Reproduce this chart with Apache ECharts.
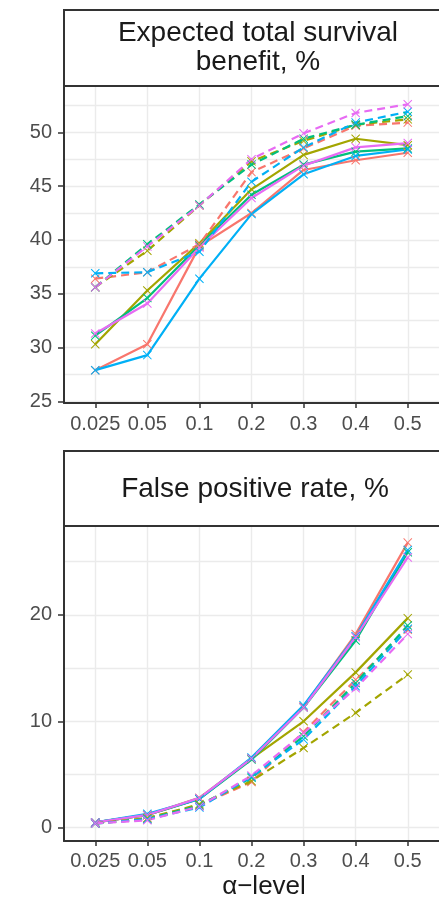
<!DOCTYPE html>
<html>
<head>
<meta charset="utf-8">
<script src="https://cdn.jsdelivr.net/npm/echarts@6/dist/echarts.min.js"></script>
<style>
  html, body { margin: 0; padding: 0; background: #fff; }
  #main { width: 439px; height: 902px; }
</style>
</head>
<body>
<div id="main"></div>
<script>
var alphaLevels = ['0.025', '0.05', '0.1', '0.2', '0.3', '0.4', '0.5'];
var groupColors = ['#F8766D', '#A3A500', '#00BF7D', '#00B0F6', '#E76BF3'];

// Expected total survival benefit, % (solid / dashed per colour group)
var benefitSolid = [
    [27.9, 30.3, 39.4, 42.5, 46.5, 47.4, 48.1],
    [30.3, 35.3, 39.7, 44.7, 47.9, 49.4, 48.8],
    [31.1, 34.6, 39.5, 44.2, 47.0, 48.2, 48.5],
    [27.9, 29.3, 36.4, 42.4, 46.1, 47.8, 48.4],
    [31.3, 34.1, 39.3, 43.9, 46.9, 48.6, 49.0]
];
var benefitDashed = [
    [36.4, 37.0, 39.6, 46.3, 48.5, 50.6, 50.9],
    [35.6, 39.0, 43.2, 47.3, 49.2, 50.7, 51.2],
    [35.6, 39.6, 43.3, 47.0, 49.4, 50.7, 51.5],
    [36.9, 37.0, 38.9, 45.4, 48.6, 50.9, 51.9],
    [35.6, 39.4, 43.2, 47.5, 49.9, 51.8, 52.6]
];

// False positive rate, %
var fprSolid = [
    [0.5, 1.2, 2.7, 6.5, 11.4, 18.2, 26.8],
    [0.5, 1.2, 2.8, 6.5, 10.0, 14.6, 19.7],
    [0.5, 1.2, 2.7, 6.4, 11.3, 17.6, 25.9],
    [0.5, 1.3, 2.7, 6.6, 11.5, 18.0, 26.1],
    [0.5, 1.2, 2.8, 6.5, 11.3, 17.9, 25.4]
];
var fprDashed = [
    [0.4, 0.9, 2.1, 4.3, 9.0, 13.9, 18.6],
    [0.4, 0.9, 2.2, 4.4, 7.5, 10.8, 14.4],
    [0.4, 0.8, 2.1, 4.7, 8.6, 13.6, 19.0],
    [0.4, 0.8, 1.9, 4.8, 8.3, 13.3, 18.7],
    [0.4, 0.7, 2.0, 4.9, 8.9, 13.1, 18.2]
];

var benefitTicks = [25, 30, 35, 40, 45, 50];
var benefitGrid = [25, 27.5, 30, 32.5, 35, 37.5, 40, 42.5, 45, 47.5, 50, 52.5];
var fprTicks = [0, 10, 20];
var fprGrid = [0, 5, 10, 15, 20, 25];
var xPositions = [0, 1, 2, 3, 4, 5, 6];

var FONT = '"Liberation Sans", Arial, Helvetica, sans-serif';
var crossPath = 'path://M0.8,0L5,4.2L9.2,0L10,0.8L5.8,5L10,9.2L9.2,10L5,5.8L0.8,10L0,9.2L4.2,5L0,0.8Z';

var myChart = echarts.init(document.getElementById('main'));

function xAxisFor(grid) {
    return {
        type: 'value', gridIndex: grid, min: -0.6, max: 6.6,
        axisLine: { show: true, onZero: false, lineStyle: { color: '#333', width: 2 } },
        axisTick: { show: true, length: 5, customValues: xPositions, lineStyle: { color: '#333', width: 1.5 } },
        axisLabel: {
            customValues: xPositions, margin: grid === 0 ? 11 : 10,
            color: '#4d4d4d', fontSize: 20, fontFamily: FONT,
            formatter: function (v) { return alphaLevels[Math.round(v)]; }
        },
        splitLine: { show: true, lineStyle: { color: '#ebebeb', width: 1.4 } }
    };
}

function yAxesFor(grid, min, max, ticks, lines) {
    return [{
        type: 'value', gridIndex: grid, min: min, max: max, position: 'left',
        axisLine: { show: true, onZero: false, lineStyle: { color: '#333', width: 2 } },
        axisTick: { show: true, length: 6, customValues: ticks, lineStyle: { color: '#333', width: 1.5 } },
        axisLabel: { customValues: ticks, margin: 12, color: '#4d4d4d', fontSize: 20, fontFamily: FONT },
        splitLine: { show: false }
    }, {
        type: 'value', gridIndex: grid, min: min, max: max, position: 'left',
        axisLine: { show: false }, axisLabel: { show: false },
        axisTick: { show: false, customValues: lines },
        splitLine: { show: true, lineStyle: { color: '#ebebeb', width: 1.4 } }
    }];
}

var series = [];
function addSeries(values, dashed, xi, yi) {
    values.forEach(function (vals, g) {
        series.push({
            type: 'line', xAxisIndex: xi, yAxisIndex: yi,
            data: vals.map(function (v, i) { return [xPositions[i], v]; }),
            symbol: crossPath, symbolSize: 9, showSymbol: true,
            lineStyle: { color: groupColors[g], width: 2.2, type: dashed ? [8, 5] : 'solid' },
            itemStyle: { color: groupColors[g] },
            silent: true, animation: false
        });
    });
}
addSeries(benefitSolid, false, 0, 0);
addSeries(benefitDashed, true, 0, 0);
addSeries(fprSolid, false, 1, 2);
addSeries(fprDashed, true, 1, 2);

var yTop = yAxesFor(0, 24.85, 54.3, benefitTicks, benefitGrid);
var yBottom = yAxesFor(1, -1.25, 28.36, fprTicks, fprGrid);

option = {
    backgroundColor: '#fff',
    animation: false,
    grid: [
        { left: 64, top: 86, width: 389, height: 317 },
        { left: 64, top: 526, width: 385, height: 315 }
    ],
    xAxis: [xAxisFor(0), xAxisFor(1)],
    yAxis: [yTop[0], yTop[1], yBottom[0], yBottom[1]],
    series: series,
    graphic: [
        {
            type: 'rect', shape: { x: 64, y: 10, width: 400, height: 76 },
            style: { fill: '#fff', stroke: '#333', lineWidth: 2 }, z: 10
        },
        {
            type: 'text', x: 258, y: 48, z: 11,
            style: {
                text: 'Expected total survival\nbenefit, %', fill: '#1a1a1a',
                font: '28px ' + FONT, lineHeight: 29, align: 'center', verticalAlign: 'middle'
            }
        },
        {
            type: 'rect', shape: { x: 64, y: 451, width: 400, height: 75 },
            style: { fill: '#fff', stroke: '#333', lineWidth: 2 }, z: 10
        },
        {
            type: 'text', x: 255, y: 489, z: 11,
            style: {
                text: 'False positive rate, %', fill: '#1a1a1a',
                font: '28px ' + FONT, align: 'center', verticalAlign: 'middle'
            }
        },
        {
            type: 'text', x: 264, y: 887, z: 11,
            style: {
                text: 'α−level', fill: '#1a1a1a',
                font: '26px ' + FONT, align: 'center', verticalAlign: 'middle'
            }
        }
    ]
};
myChart.setOption(option);
</script>
</body>
</html>
